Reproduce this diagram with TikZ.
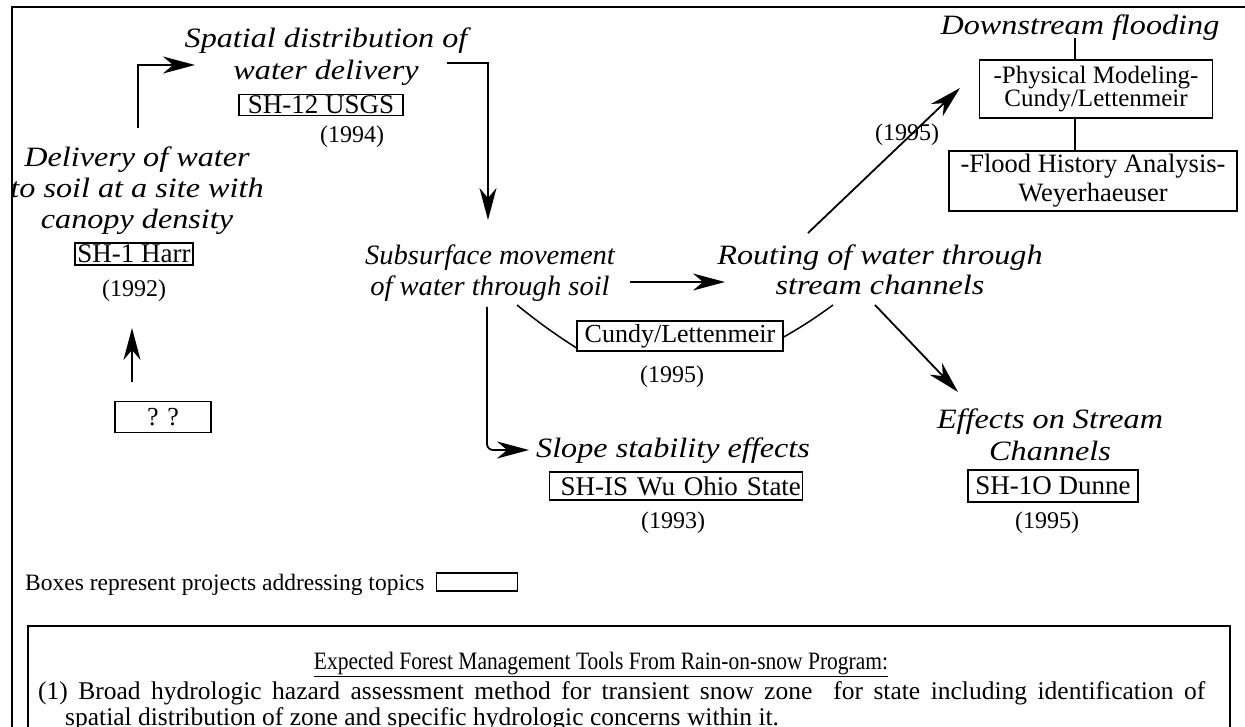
\documentclass[tikz,border=0pt]{standalone}
\usepackage{fontspec}
\setmainfont{Liberation Serif}
\newfontfamily\itlab{Liberation Serif}[FakeStretch=1.15]
\newfontfamily\itlabn{Liberation Serif}[FakeStretch=1.02]
\newfontfamily\condf{Liberation Serif}[FakeStretch=0.86]
\usetikzlibrary{arrows.meta}
\begin{document}
\begin{tikzpicture}[x=1pt,y=-1pt,
  lab/.style={font=\itlab\itshape\fontsize{28}{32}\selectfont, align=center, inner sep=0pt, anchor=base},
  proj/.style={draw, line width=1.6pt, font=\fontsize{27}{27}\selectfont, inner sep=0pt},
  yr/.style={font=\fontsize{24}{24}\selectfont, inner sep=0pt},
  arr/.style={line width=1.8pt, -{Stealth[length=32pt,width=17pt,inset=10pt]}},
  ln/.style={line width=1.5pt}]
\useasboundingbox (0,0) rectangle (1245,727);
\fill[white] (0,0) rectangle (1245,727);
% outer frame
\draw[line width=2pt] (1245,7) -- (12,7) -- (12,740);

% labels (base = baseline of the last line)
\node[lab] (spatial) at (326,80) {Spatial distribution of\\water delivery};
\node[proj, minimum width=164pt, minimum height=21pt] (usgs) at (321,105) {SH-12 USGS};
\node[yr] (y94) at (352,137) {(1994)};

\node[lab, font=\itlab\itshape\fontsize{28}{31}\selectfont] (delivery) at (137,229) {Delivery of water\\to soil at a site with\\canopy density};
\node[proj, minimum width=118pt, minimum height=22pt] (harr) at (134,254) {SH-1 Harr};
\node[yr] (y92) at (134,291) {(1992)};
\node[proj, minimum width=96pt, minimum height=31pt, font=\fontsize{26}{26}\selectfont] (qq) at (163,417) {? ?};

\node[lab, font=\itlabn\itshape\fontsize{28}{32}\selectfont] (subsurface) at (490,296) {Subsurface movement\\of water through soil};
\node[lab, font=\itlab\itshape\fontsize{28}{31}\selectfont] (routing) at (880,295) {Routing of water through\\stream channels};
\node[proj, minimum width=206pt, minimum height=30pt, font=\fontsize{26}{26}\selectfont] (cundy) at (680,336) {Cundy/Lettenmeir};
\node[yr] (y95a) at (672,377) {(1995)};

\node[lab] (slope) at (673,457) {Slope stability effects};
\node[proj, minimum height=28pt, text width=250pt, align=right, inner xsep=1.5pt] (sh15) at (676,486) {SH-IS Wu Ohio State};
\node[yr] (y93) at (673,523) {(1993)};

\node[lab] (effects) at (1050,460) {Effects on Stream\\Channels};
\node[proj, minimum width=170pt, minimum height=32pt] (dunne) at (1053,486) {SH-1O Dunne};
\node[yr] (y95c) at (1047,523) {(1995)};

\node[lab] (downstream) at (1080,35) {Downstream flooding};
\node[proj, minimum width=233pt, minimum height=58pt, align=center, font=\fontsize{25}{22}\selectfont] (phys) at (1096,89) {-Physical Modeling-\\Cundy/Lettenmeir};
\node[proj, minimum width=288pt, minimum height=60pt, align=center, font=\fontsize{26.5}{29}\selectfont] (flood) at (1093,181) {-Flood History Analysis-\\Weyerhaeuser};
\node[yr] (y95b) at (907,135) {(1995)};

% legend
\node[font=\fontsize{23.5}{23.5}\selectfont, inner sep=0pt, anchor=base west] (legend) at (25,590) {Boxes represent projects addressing topics};
\node[proj, minimum width=81pt, minimum height=18pt] (legbox) at (477,582) {};

% bottom box
\draw[line width=2pt] (28,740) -- (28,626) -- (1230,626) -- (1230,740);
\node[font=\condf\fontsize{25}{25}\selectfont, inner sep=0pt, anchor=base] (title) at (601,669) {\underline{Expected Forest Management Tools From Rain-on-snow Program:}};
\node[font=\fontsize{25.5}{26}\selectfont, inner sep=0pt, anchor=base west, align=left] (item) at (38,725) {\makebox[1167pt][s]{(1) Broad hydrologic hazard assessment method for transient snow zone\ \ for state including identification of}\\\hspace*{27pt}spatial distribution of zone and specific hydrologic concerns within it.};

% connectors
\coordinate (p1) at (138,128);
\coordinate (p1t) at (195,65);
\draw[arr] (p1) |- (p1t);
\coordinate (p2) at (447,63);
\coordinate (p2t) at (488,220);
\draw[arr] (p2) -| (p2t);
\coordinate (p3) at (132,382);
\coordinate (p3t) at (132,328);
\draw[arr] (p3) -- (p3t);
\coordinate (p4) at (630,282);
\coordinate (p4t) at (725,282);
\draw[arr] (p4) -- (p4t);
\coordinate (p5) at (808,233);
\coordinate (p5t) at (960,88);
\draw[arr] (p5) -- (p5t);
\coordinate (p6) at (875,305);
\coordinate (p6t) at (958,392);
\draw[arr] (p6) -- (p6t);
\coordinate (p7) at (487,307);
\coordinate (p7t) at (529,450);
\draw[arr, rounded corners=6pt] (p7) |- (p7t);
\coordinate (q1) at (517,305);
\draw[ln] (q1) to[bend right=3] ([yshift=4pt]cundy.south west);
\coordinate (q2) at (833,305);
\draw[ln] ([yshift=-1pt]cundy.east) to[bend right=3] (q2);
\coordinate (q3) at (1075,38);
\draw[ln] (q3) -- (phys.north -| q3);
\draw[ln] (phys.south -| q3) -- (flood.north -| q3);
\end{tikzpicture}
\end{document}
